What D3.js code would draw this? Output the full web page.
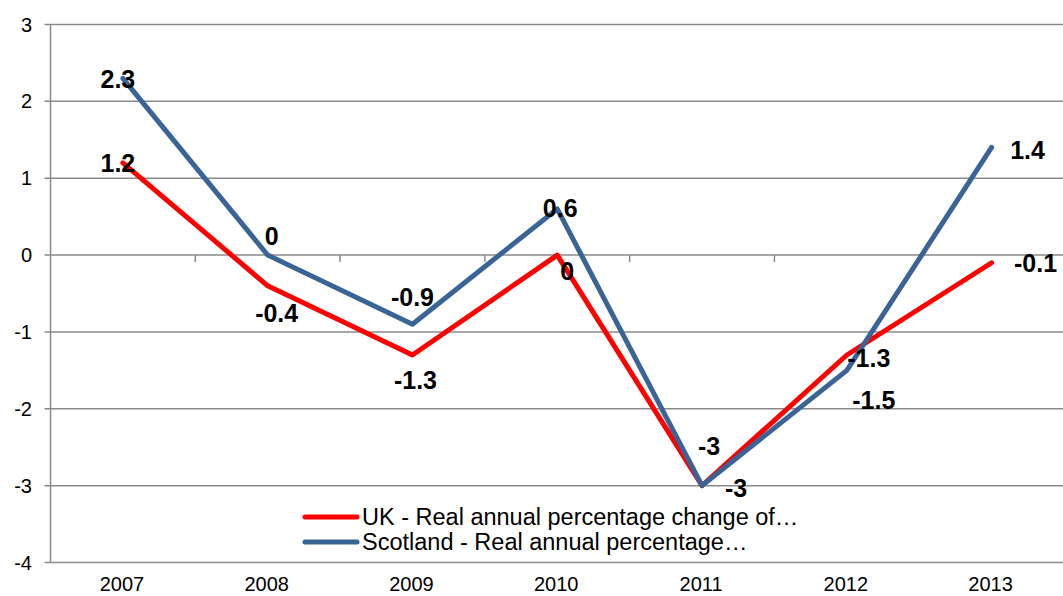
<!DOCTYPE html>
<html>
<head>
<meta charset="utf-8">
<script src="https://cdn.jsdelivr.net/npm/d3@7"></script>
<style>
  html, body { margin: 0; padding: 0; background: #fff; }
  svg { display: block; font-family: "Liberation Sans", Arial, sans-serif; }
</style>
</head>
<body>
<svg id="chart" width="1063" height="596"></svg>
<script>
// ---- data ----
const years = ["2007", "2008", "2009", "2010", "2011", "2012", "2013"];
const ukValues = [1.2, -0.4, -1.3, 0, -3, -1.3, -0.1];
const scotlandValues = [2.3, 0, -0.9, 0.6, -3, -1.5, 1.4];
const yTicks = [-4, -3, -2, -1, 0, 1, 2, 3];
const seriesNames = ["UK - Real annual percentage change of…", "Scotland - Real annual percentage…"];

// ---- label offsets (layout, px) ----
const ukLabelOffsets = [[-5, 0], [9, 27], [3, 25], [10, 16], [34, 2], [22, 3], [44, 0]];
const scotLabelOffsets = [[-5, 1], [4, -19], [0, -27], [3, -1], [7, -40], [27, 30], [36, 3]];

const svg = d3.select("#chart");
const margin = { left: 50.5, right: -1, top: 24.5, bottom: 33.5 };
const W = 1063, H = 596;

const x = d3.scaleBand().domain(years).range([margin.left, W - margin.right]).paddingInner(0).paddingOuter(0);
const y = d3.scaleLinear().domain([-4, 3]).range([H - margin.bottom, margin.top]);
const gridColor = "#8a8a8a";

// gridlines
svg.append("g").selectAll("line").data(yTicks).join("line")
  .attr("x1", margin.left - 6).attr("x2", W)
  .attr("y1", d => y(d)).attr("y2", d => y(d))
  .attr("stroke", gridColor).attr("stroke-width", 1.5);

// y axis line
svg.append("line").attr("x1", margin.left).attr("x2", margin.left)
  .attr("y1", y(3)).attr("y2", y(-4)).attr("stroke", gridColor).attr("stroke-width", 1.5);

// y tick labels
svg.append("g").selectAll("text").data(yTicks).join("text")
  .attr("x", 32).attr("y", d => y(d))
  .attr("text-anchor", "end").attr("dominant-baseline", "central")
  .attr("font-size", 20).attr("fill", "#000").text(d => d);

// category ticks on zero line
const boundaries = years.slice(1).map(d => x(d));
svg.append("g").selectAll("line").data(boundaries).join("line")
  .attr("x1", d => d).attr("x2", d => d)
  .attr("y1", y(0)).attr("y2", y(0) + 7)
  .attr("stroke", gridColor).attr("stroke-width", 1.5);

// x labels
svg.append("g").selectAll("text").data(years).join("text")
  .attr("x", d => x(d) + x.bandwidth() / 2 - 1).attr("y", 584)
  .attr("text-anchor", "middle").attr("dominant-baseline", "central")
  .attr("font-size", 20).attr("fill", "#000").text(d => d);

const line = d3.line().x((d, i) => x(years[i]) + x.bandwidth() / 2).y(d => y(d));

const series = [
  { name: seriesNames[0], values: ukValues, color: "#ff0000", offsets: ukLabelOffsets },
  { name: seriesNames[1], values: scotlandValues, color: "#3a6496", offsets: scotLabelOffsets }
];

series.forEach(s => {
  svg.append("path").datum(s.values)
    .attr("d", line).attr("fill", "none")
    .attr("stroke", s.color).attr("stroke-width", 5)
    .attr("stroke-linejoin", "round").attr("stroke-linecap", "round");
});

series.forEach(s => {
  svg.append("g").selectAll("text").data(s.values).join("text")
    .attr("x", (d, i) => x(years[i]) + x.bandwidth() / 2 + s.offsets[i][0])
    .attr("y", (d, i) => y(d) + s.offsets[i][1])
    .attr("text-anchor", "middle").attr("dominant-baseline", "central")
    .attr("font-size", 25).attr("font-weight", "bold").attr("fill", "#000")
    .text(d => d);
});

// legend
const legend = svg.append("g");
series.forEach((s, i) => {
  const ly = 517 + i * 25;
  legend.append("line").attr("x1", 305).attr("x2", 357).attr("y1", ly).attr("y2", ly)
    .attr("stroke", s.color).attr("stroke-width", 5).attr("stroke-linecap", "round");
  legend.append("text").attr("x", 362).attr("y", ly)
    .attr("dominant-baseline", "central").attr("font-size", 23.5).attr("fill", "#000")
    .text(s.name);
});
</script>
</body>
</html>
